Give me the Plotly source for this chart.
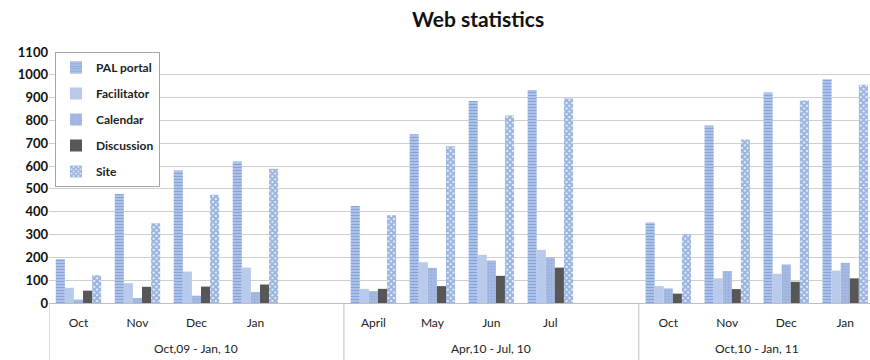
import plotly.graph_objects as go

groups = ["Oct,09 - Jan, 10"] * 5 + ["Apr,10 - Jul, 10"] * 5 + ["Oct,10 - Jan, 11"] * 4
months = ["Oct", "Nov", "Dec", "Jan", "", "April", "May", "Jun", "Jul", "", "Oct", "Nov", "Dec", "Jan"]

pal_portal = [192, 478, 581, 620, None, 425, 740, 885, 933, None, 353, 778, 922, 981]
facilitator = [67, 87, 138, 155, None, 62, 179, 211, 233, None, 74, 108, 128, 142]
calendar = [15, 22, 32, 48, None, 52, 154, 186, 200, None, 64, 140, 169, 176]
discussion = [54, 71, 72, 81, None, 62, 74, 119, 155, None, 41, 61, 93, 108]
site = [122, 349, 474, 588, None, 385, 687, 822, 896, None, 301, 716, 887, 956]

y_ticks = list(range(0, 1101, 100))

xpos = list(range(len(months)))

fig = go.Figure()
fig.add_trace(go.Bar(name="PAL portal", x=xpos, y=pal_portal, legendgroup="a",
                     marker=dict(color="#c9d6f0", line=dict(width=0),
                                 pattern=dict(shape="-", fgcolor="#3f6fc3", bgcolor="#c9d6f0", size=3, solidity=0.6))))
fig.add_trace(go.Bar(name="Facilitator", x=xpos, y=facilitator, legendgroup="b",
                     marker=dict(color="#b9cbea", line=dict(width=0))))
fig.add_trace(go.Bar(name="Calendar", x=xpos, y=calendar, legendgroup="c",
                     marker=dict(color="#97aedc", line=dict(width=0),
                                 pattern=dict(shape=".", fgcolor="#7f9bd4", bgcolor="#a9bde3", size=3, solidity=0.4))))
fig.add_trace(go.Bar(name="Discussion", x=xpos, y=discussion, legendgroup="d",
                     marker=dict(color="#575757", line=dict(width=0))))
fig.add_trace(go.Bar(name="Site", x=xpos, y=site, legendgroup="e",
                     marker=dict(color="#ffffff", line=dict(width=0),
                                 pattern=dict(shape="x", fgcolor="#3a6cc2", bgcolor="#ffffff", size=4, solidity=0.8))))

L, R, T, B = 49, 0, 52, 57
W, H = 870, 360
pw = W - L - R
ph = H - T - B

# group label annotations and divider shapes derived from the group list
annotations = [dict(text="<b>Web statistics</b>", x=(478 - L) / pw, y=1 + (T - 18) / ph,
                    xref="paper", yref="paper", yanchor="middle", xanchor="center", showarrow=False,
                    font=dict(family="Lato", size=21, color="#111"))]
shapes = []
uniq = []
for g in groups:
    if g not in uniq:
        uniq.append(g)
for g in uniq:
    idx = [i for i, gg in enumerate(groups) if gg == g]
    center = (idx[0] + idx[-1]) / 2
    annotations.append(dict(text=g, x=center, y=-(348 - 303) / ph, xref="x", yref="paper",
                            xanchor="center", yanchor="middle", showarrow=False,
                            font=dict(family="Lato", size=12, color="#222")))
    shapes.append(dict(type="line", xref="x", yref="paper", x0=idx[0] - 0.5, x1=idx[0] - 0.5,
                       y0=0, y1=-B / ph, line=dict(color="#bfbfbf", width=1)))

fig.update_layout(
    width=W, height=H,
    margin=dict(l=L, r=R, t=T, b=B),
    paper_bgcolor="white", plot_bgcolor="white",
    barmode="group", bargap=0.23, bargroupgap=0,
    font=dict(family="Lato", color="#222"),
    showlegend=True,
    legend=dict(x=(55 - L) / pw, y=(303 - 52) / ph, xanchor="left", yanchor="top",
                bgcolor="white", bordercolor="#a6a6a6", borderwidth=1,
                font=dict(family="Lato", size=12, color="#222", weight="bold"),
                traceorder="grouped", tracegroupgap=7, itemwidth=30),
    annotations=annotations,
    shapes=shapes,
)

fig.update_xaxes(range=[-0.5, 13.42], showgrid=False, zeroline=False,
                 tickmode="array", tickvals=xpos, ticktext=months, ticks="",
                 showline=True, linecolor="#bfbfbf", linewidth=1,
                 ticklabelstandoff=9,
                 tickfont=dict(family="Lato", size=12, color="#222"))
fig.update_yaxes(range=[0, 1100], tickvals=y_ticks, showgrid=True, gridcolor="#cfcfcf", gridwidth=1,
                 zeroline=False, showline=False, ticks="",
                 tickfont=dict(family="Lato", size=13, color="#111", weight="bold"))

fig.write_html("out.html")
